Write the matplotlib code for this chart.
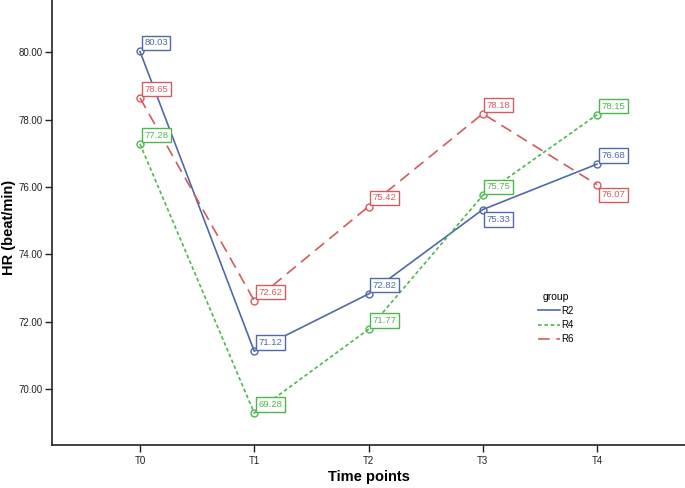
import numpy as np
import matplotlib.pyplot as plt

# time points and group means (HR, beat/min)
timepoints = ['T0', 'T1', 'T2', 'T3', 'T4']
groups = ['R2', 'R4', 'R6']
hr_r2 = [80.03, 71.12, 72.82, 75.33, 76.68]
hr_r4 = [77.28, 69.28, 71.77, 75.75, 78.15]
hr_r6 = [78.65, 72.62, 75.42, 78.18, 76.07]

# labels placed below the point instead of above
below = {('R2', 3), ('R6', 4)}

colors = {'R2': '#4f6aa8', 'R4': '#4cb84c', 'R6': '#d35c5c'}
dashes = {'R2': (None, None), 'R4': (2.2, 1.6), 'R6': (7, 4)}

plt.rcParams['font.family'] = ['Liberation Sans', 'DejaVu Sans']

fig = plt.figure(figsize=(6.85, 4.88), dpi=100)
ax = fig.add_axes([52 / 685, 43 / 488, 633 / 685, 445 / 488])

x = np.arange(len(timepoints))
for name, vals in zip(groups, [hr_r2, hr_r4, hr_r6]):
    c = colors[name]
    line, = ax.plot(x, vals, color=c, lw=1.2, marker='o', markersize=5,
                    markerfacecolor='none', markeredgecolor=c, markeredgewidth=1.0,
                    label=name)
    if dashes[name][0] is not None:
        line.set_dashes(dashes[name])
    for i, v in enumerate(vals):
        if (name, i) in below:
            off, va = (3, -4), 'top'
        else:
            off, va = (3, 3), 'bottom'
        ax.annotate('%.2f' % v, (i, v), xytext=off, textcoords='offset points',
                    ha='left', va=va, fontsize=6.8, color=c,
                    bbox=dict(boxstyle='square,pad=0.28', fc='white', ec=c, lw=1.0))

ax.set_xlim(-0.77, 4.77)
ax.set_ylim(68.33, 81.56)
ax.set_xticks(x)
ax.set_xticklabels(timepoints)
ax.set_yticks([70, 72, 74, 76, 78, 80])
ax.set_yticklabels(['%.2f' % t for t in [70, 72, 74, 76, 78, 80]])
ax.tick_params(labelsize=7, length=5, width=1, color='#222222', labelcolor='#222222')
ax.tick_params(axis='x', pad=3)
ax.tick_params(axis='y', pad=2)

for s in ['top', 'right']:
    ax.spines[s].set_visible(False)
for s in ['left', 'bottom']:
    ax.spines[s].set_linewidth(1.2)
    ax.spines[s].set_color('#222222')

ax.set_xlabel('Time points', fontsize=10.5, fontweight='bold', labelpad=3)
ax.set_ylabel('HR (beat/min)', fontsize=10.5, fontweight='bold')
ax.yaxis.set_label_coords(-0.057, 0.49)

leg = ax.legend(title='group', loc='upper left', bbox_to_anchor=(0.758, 0.358),
                frameon=False, fontsize=7, title_fontsize=7.5, handlelength=2.3,
                handletextpad=0.1, labelspacing=0.45, borderaxespad=0.2)
leg._legend_box.sep = 3
for h in leg.get_lines():
    h.set_marker('')

fig.savefig('out.png', dpi=100)
